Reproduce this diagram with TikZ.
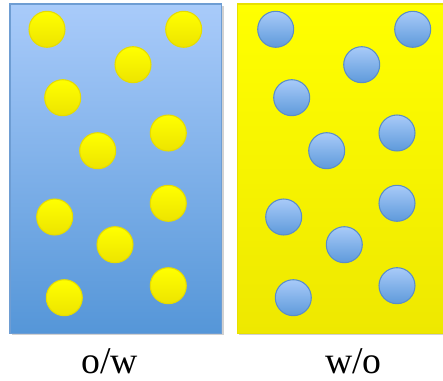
\documentclass[tikz,border=0pt]{standalone}
\usepackage{fontspec}
\setmainfont{Liberation Serif}
\begin{document}
\begin{tikzpicture}[x=0.02cm,y=-0.02cm,
  ybub/.style={circle,minimum size=0.72cm,inner sep=0pt,draw=ybord,line width=0.6pt,top color=ytop,bottom color=ybot},
  bbub/.style={circle,minimum size=0.72cm,inner sep=0pt,draw=bbord,line width=0.6pt,top color=btop,bottom color=bbot},
  lab/.style={font=\fontsize{21.5pt}{24pt}\selectfont,anchor=base,inner sep=0pt}]
\definecolor{ltop}{HTML}{A9CBFA}
\definecolor{lbot}{HTML}{5596D8}
\definecolor{lbord}{HTML}{6E9DD3}
\definecolor{ytop}{HTML}{FFFF00}
\definecolor{ybot}{HTML}{EDE400}
\definecolor{ybord}{HTML}{E6DC00}
\definecolor{rtop}{HTML}{FFFF00}
\definecolor{rbot}{HTML}{EEE800}
\definecolor{rbord}{HTML}{E8E000}
\definecolor{btop}{HTML}{A8CAF8}
\definecolor{bbot}{HTML}{5E9ADB}
\definecolor{bbord}{HTML}{5A8DC8}
\useasboundingbox (0,0) rectangle (443,381);
% shadows
\fill[black!18] (11.5,6) rectangle (223.5,335.5);
\fill[black!18] (239,6) rectangle (445,335.5);
% panels
\path[top color=ltop,bottom color=lbot,draw=lbord,line width=0.8pt] (10,4) rectangle (221.5,333.5);
\path[top color=rtop,bottom color=rbot,draw=rbord,line width=0.8pt] (237.5,4) rectangle (444,333.5);
% left bubbles (oil)
\node[ybub] (l1) at (47,29.3) {};
\node[ybub] (l2) at (183.7,29.3) {};
\node[ybub] (l3) at (133,64.7) {};
\node[ybub] (l4) at (62.7,97.7) {};
\node[ybub] (l5) at (97.7,150.7) {};
\node[ybub] (l6) at (168.3,133) {};
\node[ybub] (l7) at (54.7,217) {};
\node[ybub] (l8) at (168.3,203.3) {};
\node[ybub] (l9) at (115,244.7) {};
\node[ybub] (l10) at (64.3,297.7) {};
\node[ybub] (l11) at (168.3,285.7) {};
% right bubbles (water)
\node[bbub] (r1) at (275.7,29.3) {};
\node[bbub] (r2) at (412.7,29.3) {};
\node[bbub] (r3) at (361.7,64.7) {};
\node[bbub] (r4) at (291.7,97.7) {};
\node[bbub] (r5) at (326.7,150.7) {};
\node[bbub] (r6) at (397,133) {};
\node[bbub] (r7) at (283.7,217) {};
\node[bbub] (r8) at (397,203.3) {};
\node[bbub] (r9) at (344.3,244.7) {};
\node[bbub] (r10) at (293.3,297.7) {};
\node[bbub] (r11) at (397,285.7) {};
% labels
\node[lab] (tl) at (109.5,374) {o/w};
\node[lab] (tr) at (353.5,374) {w/o};
\end{tikzpicture}
\end{document}
